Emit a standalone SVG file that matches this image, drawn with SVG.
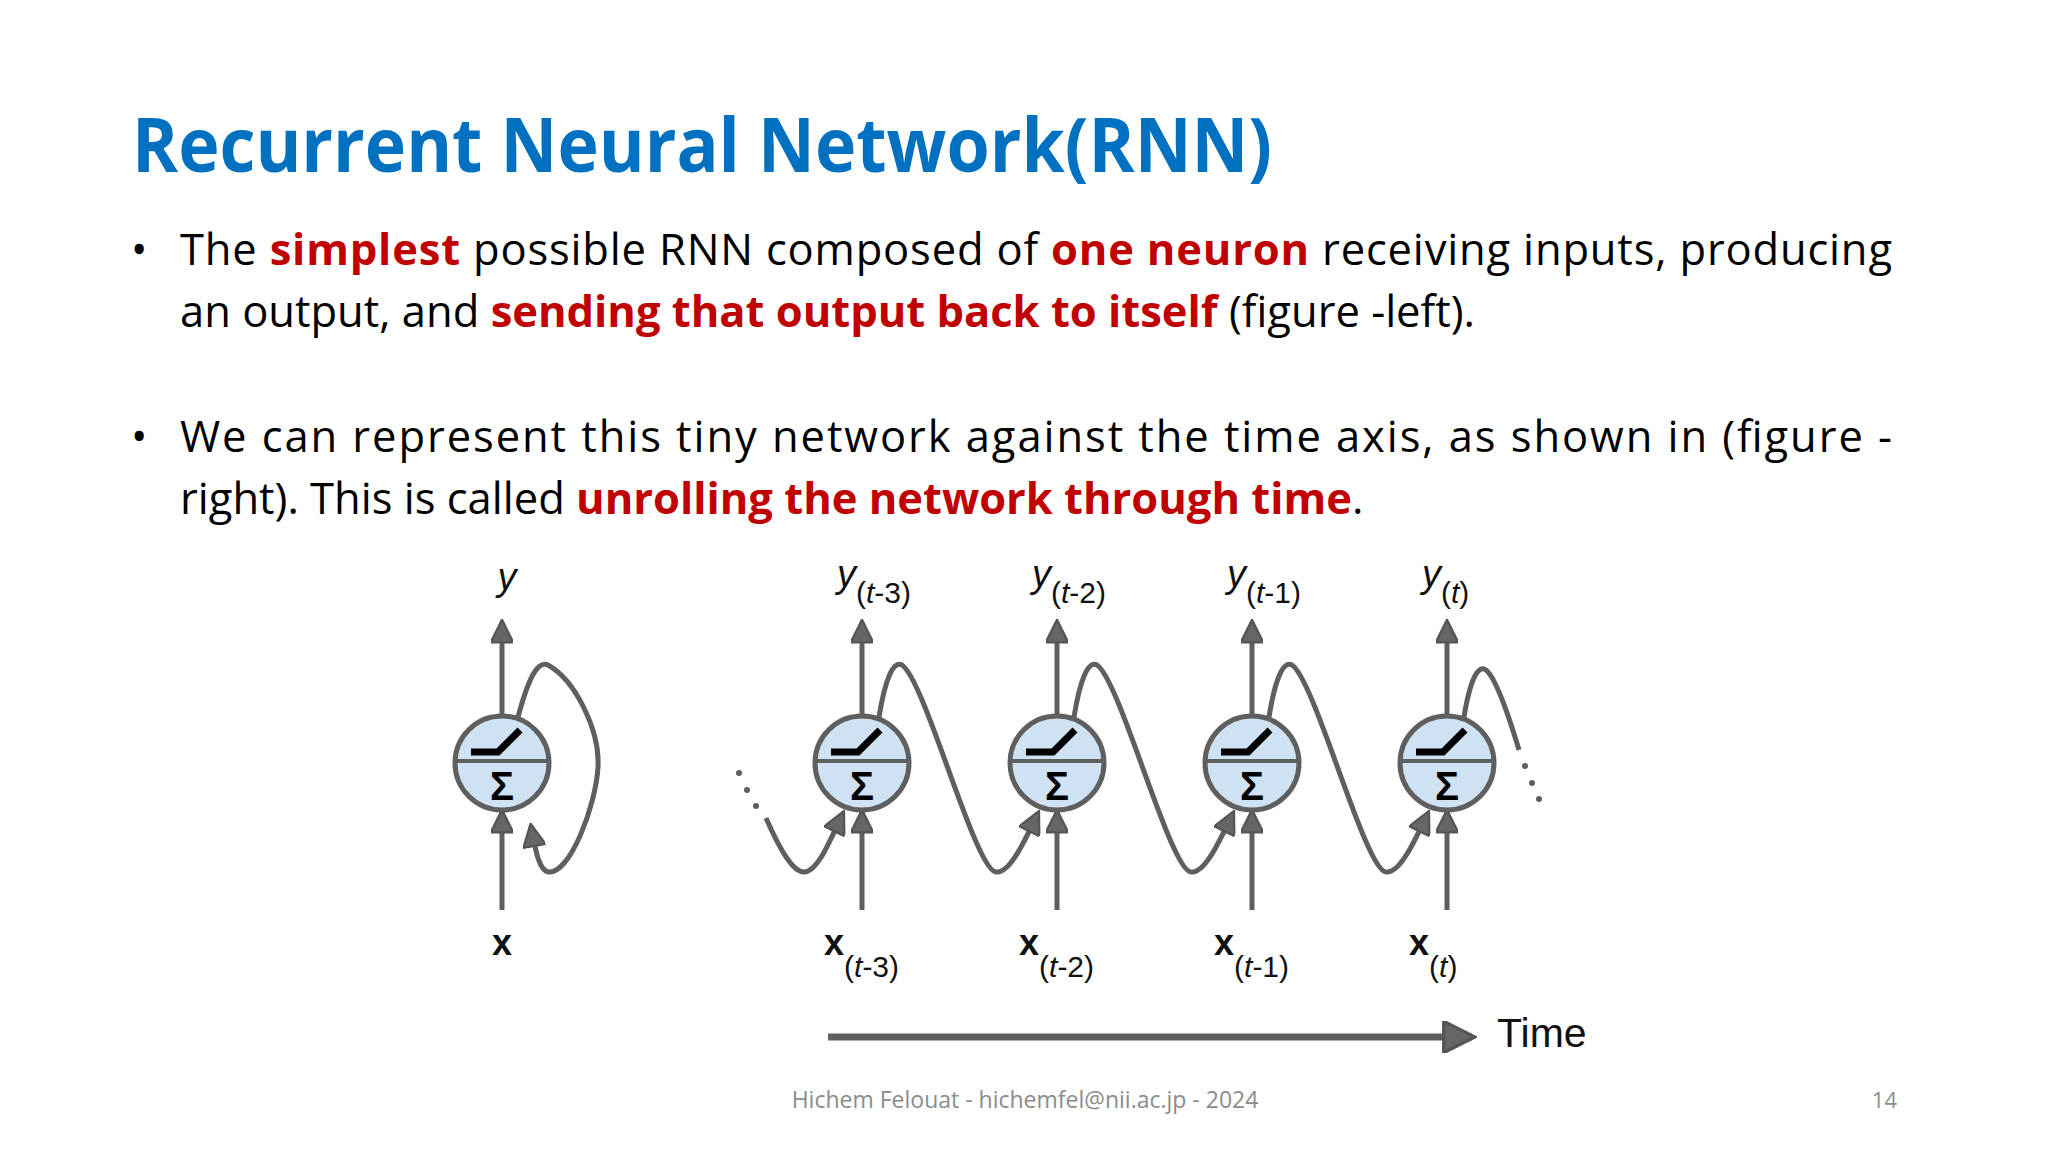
<svg xmlns="http://www.w3.org/2000/svg" xmlns:xlink="http://www.w3.org/1999/xlink" width="2048" height="1152" viewBox="0 0 2048 1152">
<style>
.body{font-family:"Open Sans","Liberation Sans",sans-serif;font-size:43.5px;fill:#000}
.red{fill:#c00000;font-weight:bold}
.lbl{font-family:"Liberation Sans",Arial,sans-serif;fill:#111}
.ln{stroke:#5f5f5f;stroke-width:5;fill:none}
</style>
<defs>
<marker id="ah" viewBox="0 0 10 10" refX="9" refY="5" markerWidth="5" markerHeight="4.5" markerUnits="strokeWidth" orient="auto"><path d="M0,0 L10,5 L0,10 Z" fill="#666" stroke="#555" stroke-width="1"/></marker>
<g id="neuron">
<circle r="47" fill="#cfe2f3" stroke="#5f5f5f" stroke-width="5"/>
<line x1="-47" y1="-2" x2="47" y2="-2" stroke="#5f5f5f" stroke-width="4"/>
<path d="M-31,-11 H-4 L18,-33" stroke="#000" stroke-width="7" fill="none"/>
<text x="0" y="37" text-anchor="middle" font-family="Liberation Sans,sans-serif" font-weight="bold" font-size="40">Σ</text>
</g>
</defs>
<rect width="2048" height="1152" fill="#fff"/>
<text x="132" y="172" font-family="Open Sans,Liberation Sans,sans-serif" font-weight="bold" font-size="76" fill="#0070c0" textLength="1140" lengthAdjust="spacingAndGlyphs">Recurrent Neural Network(RNN)</text>
<text class="body" x="131" y="265">•</text>
<text class="body" x="180" y="265" textLength="1712" lengthAdjust="spacing">The <tspan class="red">simplest</tspan> possible RNN composed of <tspan class="red">one neuron</tspan> receiving inputs, producing</text>
<text class="body" x="180" y="327">an output, and <tspan class="red">sending that output back to itself</tspan> (figure -left).</text>
<text class="body" x="131" y="452">•</text>
<text class="body" x="180" y="452" textLength="1712" lengthAdjust="spacing">We can represent this tiny network against the time axis, as shown in (figure -</text>
<text class="body" x="180" y="514">right). This is called <tspan class="red">unrolling the network through time</tspan>.</text>

<g id="connectors">
<g class="ln" marker-end="url(#ah)">
<line x1="502" y1="716" x2="502" y2="622"/>
<line x1="502" y1="910" x2="502" y2="812"/>
<path d="M518,717 C528,680 537,660 548,665 C575,680 600,730 598,767 C596,805 570,875 548,872 C540,870 536,855 531,826"/>
<line x1="862" y1="716" x2="862" y2="622"/><line x1="862" y1="910" x2="862" y2="812"/>
<line x1="1057" y1="716" x2="1057" y2="622"/><line x1="1057" y1="910" x2="1057" y2="812"/>
<line x1="1252" y1="716" x2="1252" y2="622"/><line x1="1252" y1="910" x2="1252" y2="812"/>
<line x1="1447" y1="716" x2="1447" y2="622"/><line x1="1447" y1="910" x2="1447" y2="812"/>
<path d="M766,818 C780,850 793,872 804,872 C818,872 830,840 843,813"/>
<path d="M879,717 C885,680 893,660 902,665 C925,680 975,870 996,872 C1010,874 1025,840 1038,813"/>
<path d="M1074,717 C1080,680 1088,660 1097,665 C1120,680 1170,870 1191,872 C1205,874 1220,840 1233,813"/>
<path d="M1269,717 C1275,680 1283,660 1292,665 C1315,680 1365,870 1386,872 C1400,874 1415,840 1428,813"/>
<line x1="828" y1="1037" x2="1472" y2="1037" stroke-width="7"/>
</g>
<path class="ln" d="M1464,717 C1470,680 1478,664 1486,670 C1496,678 1510,720 1519,750"/>
<g fill="#5f5f5f"><circle cx="739" cy="773" r="3"/><circle cx="747" cy="790" r="3"/><circle cx="756" cy="806" r="3"/><circle cx="1525" cy="766" r="3"/><circle cx="1532" cy="783" r="3"/><circle cx="1539" cy="799" r="3"/></g>
</g>

<g id="n0"><use xlink:href="#neuron" x="502" y="763"/></g>
<g id="n1"><use xlink:href="#neuron" x="862" y="763"/></g>
<g id="n2"><use xlink:href="#neuron" x="1057" y="763"/></g>
<g id="n3"><use xlink:href="#neuron" x="1252" y="763"/></g>
<g id="n4"><use xlink:href="#neuron" x="1447" y="763"/></g>

<g class="lbl">
<text x="507" y="590" text-anchor="middle" font-style="italic" font-size="38">y</text>
<text x="502" y="955" text-anchor="middle" font-weight="bold" font-size="36">x</text>
<text x="837" y="587" font-size="38" font-style="italic">y<tspan font-style="normal" font-size="30" dy="16">(<tspan font-style="italic">t</tspan>-3)</tspan></text>
<text x="1032" y="587" font-size="38" font-style="italic">y<tspan font-style="normal" font-size="30" dy="16">(<tspan font-style="italic">t</tspan>-2)</tspan></text>
<text x="1227" y="587" font-size="38" font-style="italic">y<tspan font-style="normal" font-size="30" dy="16">(<tspan font-style="italic">t</tspan>-1)</tspan></text>
<text x="1422" y="587" font-size="38" font-style="italic">y<tspan font-style="normal" font-size="30" dy="16">(<tspan font-style="italic">t</tspan>)</tspan></text>
<text x="824" y="955" font-size="36" font-weight="bold">x<tspan font-weight="normal" font-size="30" dy="22">(<tspan font-style="italic">t</tspan>-3)</tspan></text>
<text x="1019" y="955" font-size="36" font-weight="bold">x<tspan font-weight="normal" font-size="30" dy="22">(<tspan font-style="italic">t</tspan>-2)</tspan></text>
<text x="1214" y="955" font-size="36" font-weight="bold">x<tspan font-weight="normal" font-size="30" dy="22">(<tspan font-style="italic">t</tspan>-1)</tspan></text>
<text x="1409" y="955" font-size="36" font-weight="bold">x<tspan font-weight="normal" font-size="30" dy="22">(<tspan font-style="italic">t</tspan>)</tspan></text>
<text x="1497" y="1047" font-size="41">Time</text>
</g>

<text x="1025" y="1108" text-anchor="middle" font-family="Open Sans,Liberation Sans,sans-serif" font-size="23" fill="#8c8c8c">Hichem Felouat - hichemfel@nii.ac.jp - 2024</text>
<text x="1897" y="1108" text-anchor="end" font-family="Open Sans,Liberation Sans,sans-serif" font-size="22" fill="#8c8c8c">14</text>
</svg>
